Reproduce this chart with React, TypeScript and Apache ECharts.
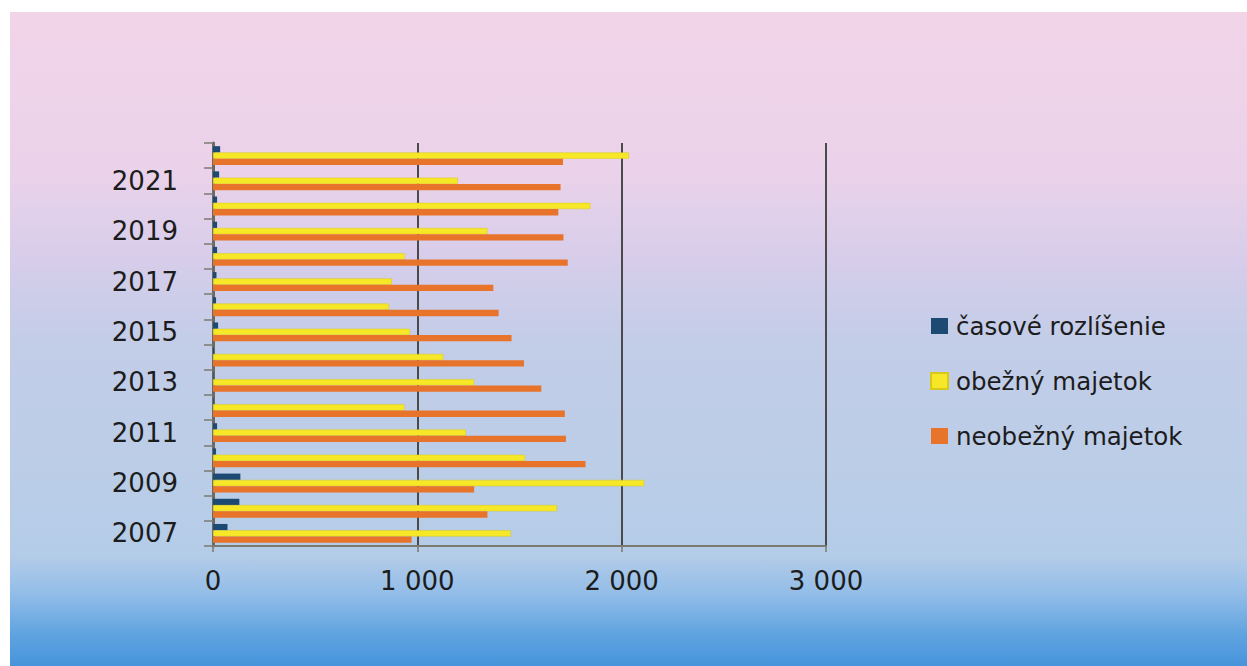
import React, { useEffect, useRef } from "react";
import * as echarts from "echarts";

const years = ["2007","2008","2009","2010","2011","2012","2013","2014","2015","2016","2017","2018","2019","2020","2021","2022"];
const casoveRozlisenie = [71, 129, 134, 15, 20, 3, 3, 5, 25, 15, 17, 20, 20, 20, 30, 35];
const obeznyMajetok = [1457, 1683, 2110, 1527, 1238, 937, 1278, 1127, 964, 861, 875, 939, 1343, 1847, 1198, 2035];
const neobeznyMajetok = [972, 1343, 1278, 1823, 1727, 1722, 1607, 1522, 1461, 1398, 1372, 1736, 1715, 1690, 1701, 1713];
const xTicks = [0, 1000, 2000, 3000];

const FONT = "'DejaVu Sans', 'Open Sans', sans-serif";

export default function App() {
  const ref = useRef<HTMLDivElement>(null);
  useEffect(() => {
    if (!ref.current) return;
    const chart = echarts.init(ref.current, undefined, { renderer: "svg" });
    chart.setOption({
      animation: false,
      backgroundColor: "transparent",
      textStyle: { fontFamily: FONT },
      grid: { left: 213, right: 421, top: 143, height: 403, containLabel: false },
      legend: {
        orient: "vertical",
        left: 925,
        top: 308,
        icon: "rect",
        itemWidth: 17,
        itemHeight: 16,
        itemGap: 29,
        textStyle: { fontSize: 24.5, color: "#1c1c1c", fontFamily: FONT, lineHeight: 26, padding: [0, 0, 0, 3] },
        data: ["časové rozlíšenie", "obežný majetok", "neobežný majetok"],
      },
      xAxis: {
        type: "value",
        min: xTicks[0],
        max: xTicks[xTicks.length - 1],
        interval: 1000,
        axisLine: { show: true, lineStyle: { color: "#7a7a70", width: 2 } },
        axisTick: { show: true, length: 6, lineStyle: { color: "#7a7a70", width: 1.5 } },
        axisLabel: {
          margin: 22,
          fontSize: 26,
          color: "#1c1c1c",
          fontFamily: FONT,
          formatter: (v: number) => String(v).replace(/\B(?=(\d{3})+(?!\d))/g, " "),
        },
        splitLine: { show: true, lineStyle: { color: "#4a4a4a", width: 2 } },
      },
      yAxis: {
        type: "category",
        data: years,
        axisLine: { show: true, lineStyle: { color: "#6a6a64", width: 3 } },
        axisTick: { show: true, length: 9, interval: 0, lineStyle: { color: "#7a7a70", width: 1.5 } },
        axisLabel: { interval: 1, margin: 35, fontSize: 26, color: "#1c1c1c", fontFamily: FONT },
        splitLine: { show: false },
      },
      series: [
        {
          name: "časové rozlíšenie",
          type: "bar",
          data: casoveRozlisenie,
          itemStyle: { color: "#1d4a73" },
          barGap: "0%",
          barCategoryGap: "25%",
        },
        {
          name: "obežný majetok",
          type: "bar",
          data: obeznyMajetok,
          itemStyle: { color: "#f7e827", borderColor: "#d8c81a", borderWidth: 0.5 },
          barGap: "0%",
          barCategoryGap: "25%",
        },
        {
          name: "neobežný majetok",
          type: "bar",
          data: neobeznyMajetok,
          itemStyle: { color: "#e8732b" },
          barGap: "0%",
          barCategoryGap: "25%",
        },
      ],
    });
    return () => chart.dispose();
  }, []);

  return (
    <div style={{ position: "fixed", left: 0, top: 0, width: 1247, height: 666, background: "#ffffff", overflow: "hidden" }}>
      <div
        style={{
          position: "absolute",
          left: 10,
          top: 12,
          right: 0,
          bottom: 0,
          background:
            "linear-gradient(to bottom, #f2d4e8 0%, #ead2ea 25%, #d6cdea 38%, #c3cde8 50%, #bbcde7 70%, #b4cce8 83%, #92bde8 89%, #60a4e0 95%, #4794dc 100%)",
        }}
      />
      <div ref={ref} style={{ position: "absolute", left: 0, top: 0, width: 1247, height: 666 }} />
    </div>
  );
}
